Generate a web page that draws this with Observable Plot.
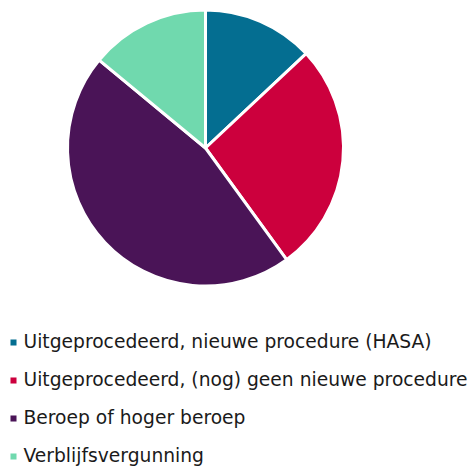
<!DOCTYPE html>
<html>
<head>
<meta charset="utf-8">
<script src="https://cdn.jsdelivr.net/npm/d3@7"></script>
<script src="https://cdn.jsdelivr.net/npm/@observablehq/plot@0.6"></script>
<style>
  body { margin: 0; background: #fff; }
  #chart svg { display: block; }
</style>
</head>
<body>
<div id="chart"></div>
<script>
const categories = [
  "Uitgeprocedeerd, nieuwe procedure (HASA)",
  "Uitgeprocedeerd, (nog) geen nieuwe procedure",
  "Beroep of hoger beroep",
  "Verblijfsvergunning"
];
const values = [13, 27, 46, 14];
const colors = ["#046E91", "#CC003D", "#4A1457", "#70D9AE"];

const data = categories.map((c, i) => ({category: c, value: values[i]}));

const pieCenter = [205.5, 148];
const pieRadius = 138;

function pieMark(index, scales, vals, dimensions, context) {
  const pie = d3.pie().sort(null).value(d => d.value)(data);
  const arc = d3.arc().innerRadius(0).outerRadius(pieRadius);
  const g = d3.create("svg:g").attr("transform", `translate(${pieCenter[0]},${pieCenter[1]})`);
  g.selectAll("path")
    .data(pie)
    .join("path")
    .attr("d", arc)
    .attr("fill", d => scales.color(d.data.category))
    .attr("stroke", "#fff")
    .attr("stroke-width", 3)
    .attr("stroke-linejoin", "round");
  return g.node();
}

const chart = Plot.plot({
  width: 470,
  height: 466,
  margin: 0,
  style: {fontFamily: "'DejaVu Sans', Verdana, sans-serif", background: "#fff"},
  y: {type: "point", domain: categories, range: [342, 456], padding: 0, axis: null},
  color: {type: "ordinal", domain: categories, range: colors},
  marks: [
    pieMark,
    Plot.dot(data, {
      y: "category", fill: "category", symbol: "square", r: 3.4,
      frameAnchor: "left", dx: 13
    }),
    Plot.text(data, {
      y: "category", text: "category", frameAnchor: "left", dx: 23,
      textAnchor: "start", fontSize: 18.7, fill: "#1a1a1a"
    })
  ]
});
document.getElementById("chart").appendChild(chart);
</script>
</body>
</html>
